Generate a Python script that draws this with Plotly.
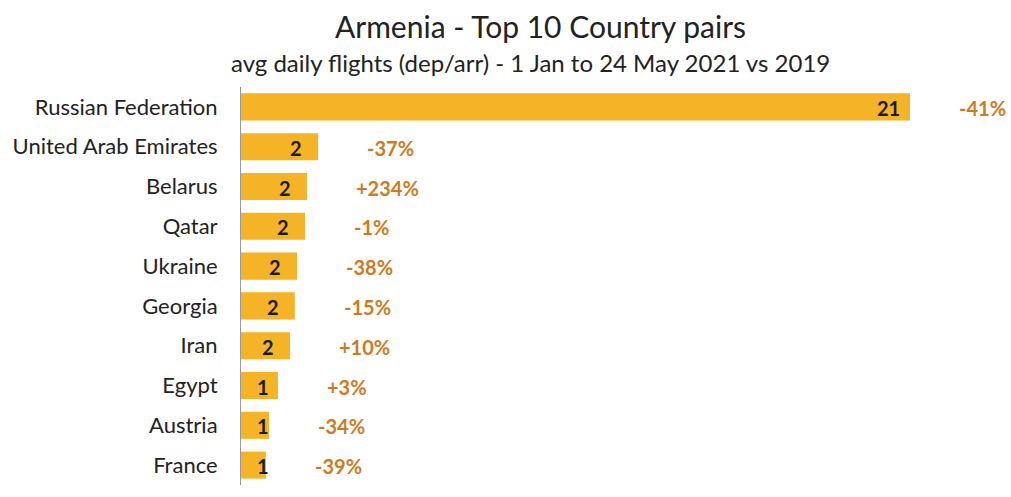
import plotly.graph_objects as go

countries = ["Russian Federation", "United Arab Emirates", "Belarus", "Qatar", "Ukraine",
             "Georgia", "Iran", "Egypt", "Austria", "France"]
flights = [21.0, 2.42, 2.07, 2.01, 1.76, 1.69, 1.54, 1.16, 0.88, 0.78]
value_labels = ["21", "2", "2", "2", "2", "2", "2", "1", "1", "1"]
change_labels = ["-41%", "-37%", "+234%", "-1%", "-38%", "-15%", "+10%", "+3%", "-34%", "-39%"]

FONT = "Lato"
BAR = "#F4B425"
PCT = "#D07A1E"

fig = go.Figure(go.Bar(
    y=countries, x=flights, orientation="h",
    marker=dict(color=BAR, line=dict(width=0)),
    hoverinfo="skip",
))

ann = []
for c, v, vl, cl in zip(countries, flights, value_labels, change_labels):
    ann.append(dict(x=max(v - 0.69, 0.69), y=c, xref="x", yref="y", text=vl,
                    showarrow=False, xanchor="center", yshift=-1,
                    font=dict(family=FONT, size=20, color="#1a1a1a", weight="bold")))
    ann.append(dict(x=v, y=c, xref="x", yref="y", text=cl, showarrow=False,
                    xanchor="left", xshift=47, yshift=-1,
                    font=dict(family=FONT, size=20, color=PCT, weight="bold")))

ann.append(dict(x=540, y=26, xref="paper", yref="paper", text="Armenia - Top 10 Country pairs",
                showarrow=False, font=dict(family=FONT, size=30, color="#222")))
ann.append(dict(x=530, y=62, xref="paper", yref="paper",
                text="avg daily flights (dep/arr) - 1 Jan to 24 May 2021 vs 2019",
                showarrow=False, font=dict(family=FONT, size=24, color="#222")))

# convert pixel-based title positions to paper coords
W, H = 1011, 497
ml, mr, mt, mb = 241, 0, 87, 12
pw, ph = W - ml - mr, H - mt - mb
for a in ann[-2:]:
    a["x"] = (a["x"] - ml) / pw
    a["y"] = (H - mb - a["y"]) / ph
    a["yanchor"] = "middle"

fig.update_layout(
    width=W, height=H,
    margin=dict(l=ml, r=mr, t=mt, b=mb),
    paper_bgcolor="white", plot_bgcolor="white",
    bargap=0.32,
    showlegend=False,
    annotations=ann,
    xaxis=dict(range=[0, 24.17], visible=False, fixedrange=True),
    yaxis=dict(autorange="reversed", showline=True, linecolor="#9a9a9a", linewidth=1,
               showgrid=False, ticks="", ticklabelstandoff=18,
               tickfont=dict(family=FONT, size=22, color="#222")),
)

fig.write_html("out.html")
